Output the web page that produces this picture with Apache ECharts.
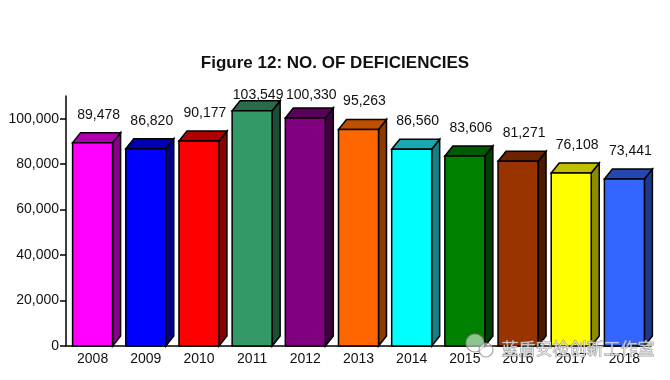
<!DOCTYPE html>
<html>
<head>
<meta charset="utf-8">
<script src="https://cdn.jsdelivr.net/npm/echarts@6/dist/echarts.min.js"></script>
<style>html,body{margin:0;padding:0;background:#fff;}#c{width:670px;height:380px;}</style>
</head>
<body>
<div id="c"></div>
<script>
const years = ['2008','2009','2010','2011','2012','2013','2014','2015','2016','2017','2018'];
const deficiencies = [89478, 86820, 90177, 103549, 100330, 95263, 86560, 83606, 81271, 76108, 73441];
const yTicks = [0, 20000, 40000, 60000, 80000, 100000];

const frontColors = ['#FF00FF','#0000FF','#FF0000','#339966','#800080','#FF6600','#00FFFF','#008000','#993300','#FFFF00','#3366FF'];
const topColors   = ['#B000B0','#0000B0','#B00000','#2A6B4A','#5A005A','#C04F00','#1AA8B0','#005A00','#6B2400','#C0C000','#2447B0'];
const sideColors  = ['#8B008B','#00008B','#8B0000','#1E4D36','#400040','#8B3A00','#157F85','#004000','#4D1A00','#8B8B00','#1C388B'];

const FONT = 'Liberation Sans, Arial, sans-serif';
const fmt = v => Number(v).toLocaleString('en-US');

const chart = echarts.init(document.getElementById('c'), null, {renderer: 'canvas'});
chart.setOption({
  backgroundColor: '#fff',
  animation: false,
  title: {
    text: 'Figure 12: NO. OF DEFICIENCIES',
    left: 'center',
    top: 50,
    textStyle: {fontFamily: FONT, fontSize: 17, fontWeight: 'bold', color: '#111'}
  },
  grid: {left: 66, right: 19, top: 96, bottom: 34},
  xAxis: {
    type: 'category',
    data: years,
    boundaryGap: true,
    axisLine: {lineStyle: {color: '#000', width: 1.5}},
    axisTick: {show: false},
    axisLabel: {color: '#111', fontFamily: FONT, fontSize: 14, margin: 6}
  },
  yAxis: {
    type: 'value',
    min: 0,
    max: 110000,
    interval: 20000,
    axisLine: {show: true, lineStyle: {color: '#000', width: 1.5}},
    axisTick: {show: true, length: 6, lineStyle: {color: '#000', width: 1.5}, customValues: yTicks},
    axisLabel: {color: '#111', fontFamily: FONT, fontSize: 14, margin: 7, customValues: yTicks, formatter: v => fmt(v)},
    splitLine: {show: false}
  },
  series: [{
    type: 'custom',
    data: deficiencies.map((v, i) => [i, v]),
    encode: {x: 0, y: 1},
    renderItem: function (params, api) {
      const i = api.value(0);
      const v = api.value(1);
      const p = api.coord([i, v]);
      const b = api.coord([i, 0]);
      const w = 40, dx = 8, dy = 10;
      const x0 = p[0] - w / 2, x1 = p[0] + w / 2, yt = p[1], yb = b[1];
      const stroke = {stroke: '#000', lineWidth: 1.5, lineJoin: 'miter'};
      return {
        type: 'group',
        children: [
          {type: 'polygon', shape: {points: [[x1, yt], [x1 + dx, yt - dy], [x1 + dx, yb - dy], [x1, yb]]},
           style: Object.assign({fill: sideColors[i]}, stroke)},
          {type: 'polygon', shape: {points: [[x0, yt], [x0 + dx, yt - dy], [x1 + dx, yt - dy], [x1, yt]]},
           style: Object.assign({fill: topColors[i]}, stroke)},
          {type: 'rect', shape: {x: x0, y: yt, width: w, height: yb - yt},
           style: Object.assign({fill: frontColors[i]}, stroke)},
          {type: 'text', x: p[0] + 6, y: Math.max(95, yt - 28),
           style: {text: fmt(v), fill: '#111', font: '14px ' + FONT, align: 'center', verticalAlign: 'middle'}}
        ]
      };
    }
  }],
  graphic: [
    {type: 'circle', shape: {cx: 475, cy: 343, r: 9}, z: 100,
     style: {fill: 'rgba(255,255,255,0.55)', stroke: 'rgba(140,140,140,0.8)', lineWidth: 1.2}},
    {type: 'circle', shape: {cx: 486, cy: 350, r: 7}, z: 100,
     style: {fill: 'rgba(255,255,255,0.55)', stroke: 'rgba(140,140,140,0.8)', lineWidth: 1.2}},
    {type: 'text', left: 501, top: 340, z: 100,
     style: {text: '蓝盾安检创新工作室', font: '17px "Noto Sans CJK SC", sans-serif',
             fill: 'rgba(235,235,235,0.75)', stroke: 'rgba(120,120,120,0.8)', lineWidth: 0.8}}
  ]
});
</script>
</body>
</html>
